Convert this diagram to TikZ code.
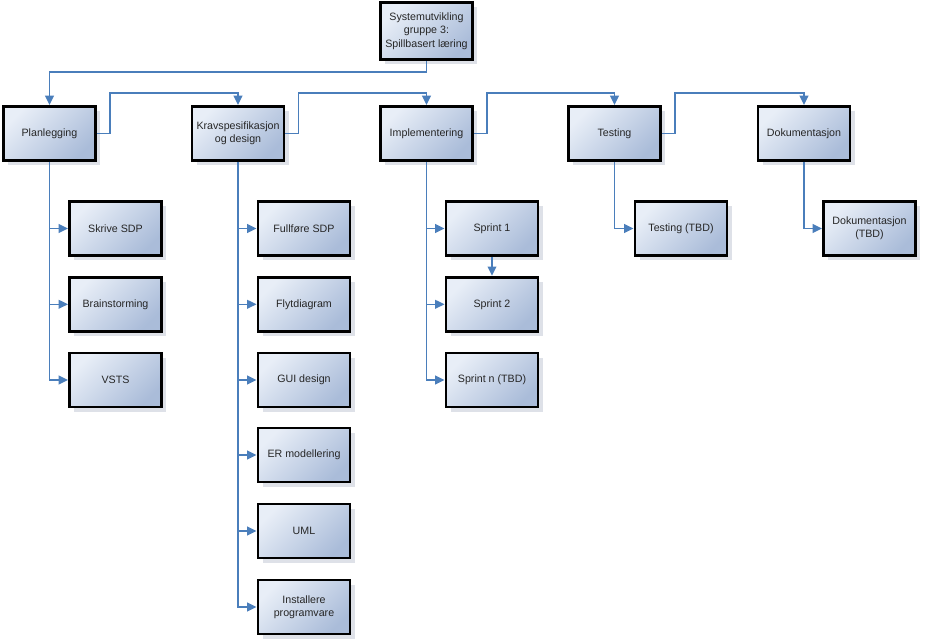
\documentclass[tikz,border=0pt]{standalone}
\usepackage{fontspec}
\setmainfont{Liberation Sans}
\usetikzlibrary{arrows.meta,shadows,calc}
\definecolor{boxlight}{RGB}{232,238,247}
\definecolor{boxdark}{RGB}{170,188,217}
\definecolor{conncol}{RGB}{74,126,187}
\definecolor{shadowcol}{RGB}{222,225,232}
\tikzset{
 wbs/.style={rectangle, draw=black, line width=2.2pt, minimum width=69pt, minimum height=40.5pt,
   align=center, font=\fontsize{8}{10}\selectfont, text=black!85,
   top color=boxlight, bottom color=boxdark, shading angle=45,
   drop shadow={shadow xshift=3.5pt, shadow yshift=-3.5pt, fill=shadowcol, opacity=1},
   inner sep=1pt},
 conn/.style={draw=conncol, line width=1.2pt, -{Triangle[length=7pt,width=6.5pt]}}
}
\begin{document}
\begin{tikzpicture}[x=0.75pt,y=-0.75pt]
\useasboundingbox (0,0) rectangle (925,642);
% root
\node[wbs, minimum height=43pt] (root) at (426.5,31) {Systemutvikling\\gruppe 3:\\Spillbasert læring};
% level 1
\node[wbs] (plan) at (49.5,133.5) {Planlegging};
\node[wbs] (krav) at (238,133.5) {Kravspesifikasjon\\og design};
\node[wbs] (impl) at (426.5,133.5) {Implementering};
\node[wbs] (test) at (614.5,133.5) {Testing};
\node[wbs] (dok) at (804,133.5) {Dokumentasjon};
% children of Planlegging
\node[wbs] (p1) at (115.5,228.5) {Skrive SDP};
\node[wbs] (p2) at (115.5,304.3) {Brainstorming};
\node[wbs] (p3) at (115.5,380) {VSTS};
% children of Kravspesifikasjon
\node[wbs] (k1) at (304,228.5) {Fullføre SDP};
\node[wbs] (k2) at (304,304.3) {Flytdiagram};
\node[wbs] (k3) at (304,380) {GUI design};
\node[wbs] (k4) at (304,455) {ER modellering};
\node[wbs] (k5) at (304,531) {UML};
\node[wbs] (k6) at (304,607) {Installere\\programvare};
% children of Implementering
\node[wbs] (i1) at (492,228.5) {Sprint 1};
\node[wbs] (i2) at (492,304.3) {Sprint 2};
\node[wbs] (i3) at (492,380) {Sprint n (TBD)};
% children of Testing / Dokumentasjon
\node[wbs] (t1) at (681,228.5) {Testing (TBD)};
\node[wbs] (d1) at (869.5,228.5) {Dokumentasjon\\(TBD)};
% connectors
\draw[conn] (root.south) -- ++(0,11) -| (plan.north);
\draw[conn] (plan.east) -- ++(13,0) |- ($(krav.north)+(0,-12)$) -- (krav.north);
\draw[conn] (krav.east) -- ++(13,0) |- ($(impl.north)+(0,-12)$) -- (impl.north);
\draw[conn] (impl.east) -- ++(13,0) |- ($(test.north)+(0,-12)$) -- (test.north);
\draw[conn] (test.east) -- ++(13,0) |- ($(dok.north)+(0,-12)$) -- (dok.north);
\foreach \c in {p1,p2,p3} \draw[conn] (plan.south) |- (\c.west);
\foreach \c in {k1,k2,k3,k4,k5,k6} \draw[conn] (krav.south) |- (\c.west);
\foreach \c in {i1,i2,i3} \draw[conn] (impl.south) |- (\c.west);
\draw[conn] (i1.south) -- (i2.north);
\draw[conn] (test.south) |- (t1.west);
\draw[conn] (dok.south) |- (d1.west);
\end{tikzpicture}
\end{document}
